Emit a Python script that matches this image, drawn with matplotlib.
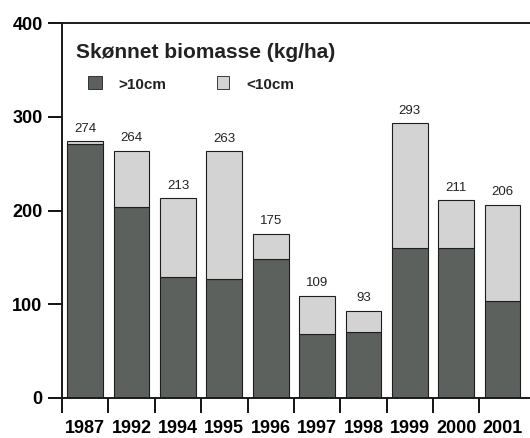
import matplotlib.pyplot as plt
import numpy as np

plt.rcParams['font.family'] = ['Liberation Sans', 'DejaVu Sans']

years = ["1987", "1992", "1994", "1995", "1996", "1997", "1998", "1999", "2000", "2001"]
total = [274, 264, 213, 263, 175, 109, 93, 293, 211, 206]
large = [271, 204, 129, 127, 148, 68, 70, 160, 160, 104]   # >10cm
small = [t - l for t, l in zip(total, large)]              # <10cm

dark = '#5d615d'
light = '#d3d3d3'

fig = plt.figure(figsize=(5.30, 4.38), dpi=100)
ax = fig.add_axes([62 / 530, 40 / 438, 468 / 530, 375 / 438])

x = np.arange(len(years))
ax.bar(x, large, width=0.77, color=dark, edgecolor='#1e1e1e', linewidth=0.8)
ax.bar(x, small, width=0.77, bottom=large, color=light, edgecolor='#1e1e1e', linewidth=0.8)

for xi, t in zip(x, total):
    ax.text(xi, t + 7, str(t), ha='center', va='bottom', fontsize=9.5, color='#222')

ax.set_xlim(-0.5, 9.59)
ax.set_ylim(0, 400)
ax.set_yticks([0, 100, 200, 300, 400])
ax.tick_params(axis='y', direction='out', length=10, width=1.3, labelsize=13, pad=4)
for lab in ax.get_yticklabels():
    lab.set_fontweight('bold')

# tick marks between the bars, year labels under the bars
ax.set_xticks(np.arange(-0.5, 9.0, 1.0))
ax.set_xticklabels([])
ax.set_xticks(x, minor=True)
ax.set_xticklabels(years, minor=True, fontsize=13, fontweight='bold')
ax.tick_params(axis='x', which='major', direction='out', length=11, width=1.3)
ax.tick_params(axis='x', which='minor', length=0, pad=16)

ax.spines['right'].set_visible(False)
for s in ['left', 'top', 'bottom']:
    ax.spines[s].set_linewidth(1.4)
    ax.spines[s].set_color('#1a1a1a')

ax.text(0.03, 362.5, "Skønnet biomasse (kg/ha)", transform=ax.get_yaxis_transform(),
        fontsize=15, fontweight='bold', color='#222', va='baseline', ha='left')

# legend boxes
ax.bar([0.21], [13.5], bottom=[330], width=0.29, color=dark, edgecolor='#1e1e1e', linewidth=0.6)
ax.bar([2.97], [13.5], bottom=[330], width=0.27, color=light, edgecolor='#1e1e1e', linewidth=0.6)
ax.text(0.71, 330, ">10cm", fontsize=11, fontweight='bold', va='baseline', color='#222')
ax.text(3.47, 330, "<10cm", fontsize=11, fontweight='bold', va='baseline', color='#222')

fig.savefig('out.png', dpi=100)
